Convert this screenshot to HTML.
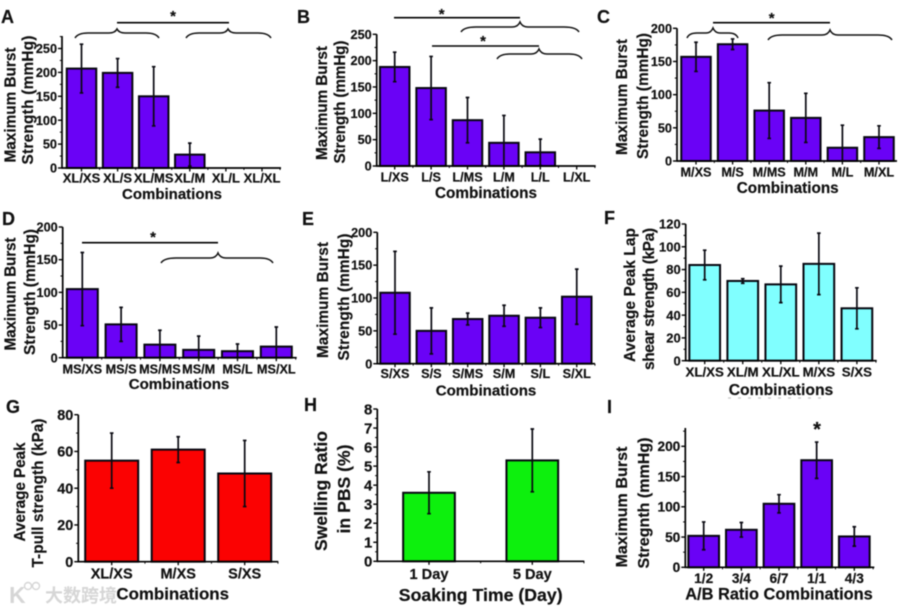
<!DOCTYPE html>
<html lang="en">
<head>
<meta charset="utf-8">
<title>Burst strength bar chart panels</title>
<style>
html,body{margin:0;padding:0;background:#fff;width:903px;height:608px;overflow:hidden}
svg{display:block;filter:blur(0.4px)}
text{font-family:"Liberation Sans","Noto Sans CJK SC",sans-serif;font-weight:bold;fill:#111;stroke:#111;stroke-width:0.2px}
.t{text-anchor:middle}
.p{font-size:18px}
.b{fill:none;stroke:#111;stroke-width:1.5}
.l{stroke:#000;stroke-width:1.6}
.wm{fill:#d6d6d6;stroke:none;font-weight:bold}
</style>
</head>
<body>
<svg id="figure" width="903" height="608" viewBox="0 0 903 608" xmlns="http://www.w3.org/2000/svg">
  <g>
    <text class="wm" x="9" y="603" font-size="23">K</text>
    <circle cx="28" cy="586" r="3.5" fill="none" stroke="#d6d6d6" stroke-width="1.4"/>
    <circle cx="36" cy="586" r="3.5" fill="none" stroke="#d6d6d6" stroke-width="1.4"/>
    <text class="wm" x="45" y="602" font-size="18">大数跨境</text>
  </g>
  <line x1="728" y1="398" x2="828" y2="398" stroke="#c8c8c8" stroke-width="1.2" stroke-dasharray="3 7"/>

  <g id="panel-a">
    <text class="p" x="1" y="23">A</text>
    <text class="t" transform="translate(15.5 105) rotate(-90)" font-size="15.3" textLength="115">Maximum Burst</text>
    <text class="t" transform="translate(33 100) rotate(-90)" font-size="15.3" textLength="129">Strength (mmHg)</text>
    <text class="t" x="172" y="199" font-size="15">Combinations</text>
    <path class="b" d="M75 38 Q78 33 88 33 H109 Q115 33 117 29 Q119 33 125 33 H146 Q156 33 159 38"/>
    <path class="b" d="M186 38 Q189 33 199 33 H220 Q226 33 228 29 Q230 33 236 33 H258 Q268 33 271 38"/>
    <line class="l" x1="117" y1="22.7" x2="229" y2="22.7"/>
    <text class="t" x="173" y="21" font-size="15">*</text>
  </g>

  <g id="panel-b">
    <text class="p" x="297" y="23">B</text>
    <text class="t" transform="translate(327 103) rotate(-90)" font-size="15.3" textLength="114">Maximum Burst</text>
    <text class="t" transform="translate(345 102) rotate(-90)" font-size="15.3" textLength="123">Strength (mmHg)</text>
    <text class="t" x="486" y="198" font-size="15.3">Combinations</text>
    <path class="b" d="M461 32 Q464 27 476 27 H512 Q518 27 520 22 Q522 27 528 27 H564 Q576 27 579 32"/>
    <path class="b" d="M497 59 Q500 54 510 54 H531 Q537 54 539 49 Q541 54 547 54 H569 Q579 54 582 59"/>
    <line class="l" x1="394" y1="17.7" x2="520" y2="17.7"/>
    <line class="l" x1="432" y1="46" x2="539" y2="46"/>
    <text class="t" x="441.7" y="19" font-size="15">*</text>
    <text class="t" x="483" y="46" font-size="15">*</text>
  </g>

  <g id="panel-c">
    <text class="p" x="597" y="23">C</text>
    <text class="t" transform="translate(627 97) rotate(-90)" font-size="15.3" textLength="116">Maximum Burst</text>
    <text class="t" transform="translate(648 96) rotate(-90)" font-size="15.3" textLength="126">Strength (mmHg)</text>
    <text class="t" x="787.7" y="193" font-size="15.3">Combinations</text>
    <path class="b" d="M687 38 Q689 33 697 33 H706 Q711 33 713 28 Q715 33 720 33 H729 Q736 33 738 38"/>
    <path class="b" d="M768 40 Q771 35 782 35 H822 Q828 35 830 30 Q832 35 838 35 H878 Q889 35 892 40"/>
    <line class="l" x1="713" y1="22.7" x2="830" y2="22.7"/>
    <text class="t" x="771.7" y="23" font-size="15">*</text>
  </g>

  <g id="panel-d">
    <text class="p" x="2" y="225">D</text>
    <text class="t" transform="translate(15.5 294) rotate(-90)" font-size="15.3" textLength="113">Maximum Burst</text>
    <text class="t" transform="translate(35 292) rotate(-90)" font-size="15.3" textLength="126">Strength (mmHg)</text>
    <text class="t" x="179" y="389" font-size="15.1">Combinations</text>
    <path class="b" d="M161 263 Q164 258 176 258 H210 Q216 258 218 253 Q220 258 226 258 H260 Q270 258 273 263"/>
    <line class="l" x1="82" y1="242.7" x2="218" y2="242.7"/>
    <text class="t" x="153" y="242" font-size="15">*</text>
  </g>

  <g id="panel-e">
    <text class="p" x="302" y="225">E</text>
    <text class="t" transform="translate(328 300) rotate(-90)" font-size="15.3" textLength="116">Maximum Burst</text>
    <text class="t" transform="translate(349 297) rotate(-90)" font-size="15.3" textLength="127">Strength (mmHg)</text>
    <text class="t" x="486" y="395.7" font-size="15.1">Combinations</text>
  </g>

  <g id="panel-f">
    <text class="p" x="604" y="224">F</text>
    <text class="t" transform="translate(635 295) rotate(-90)" font-size="15.5" textLength="134">Average Peak Lap</text>
    <text class="t" transform="translate(654 299) rotate(-90)" font-size="15.5" textLength="142">shear strength (kPa)</text>
    <text class="t" x="781" y="395" font-size="15.7">Combinations</text>
  </g>

  <g id="panel-g">
    <text class="p" x="6" y="413">G</text>
    <text class="t" transform="translate(25 492) rotate(-90)" font-size="15.3" textLength="99">Average Peak</text>
    <text class="t" transform="translate(43 493) rotate(-90)" font-size="15.3" textLength="149">T-pull strength (kPa)</text>
    <text class="t" x="172.7" y="599.7" font-size="16.9">Combinations</text>
  </g>

  <g id="panel-h">
    <text class="p" x="304" y="411">H</text>
    <text class="t" transform="translate(327 491) rotate(-90)" font-size="17.5" textLength="120">Swelling Ratio</text>
    <text class="t" transform="translate(350 489) rotate(-90)" font-size="17.5" textLength="89">in PBS (%)</text>
    <text class="t" x="480.7" y="601" font-size="17.7">Soaking Time (Day)</text>
  </g>

  <g id="panel-i">
    <text class="p" x="607" y="413">I</text>
    <text class="t" transform="translate(627 507) rotate(-90)" font-size="16" textLength="121">Maximum Burst</text>
    <text class="t" transform="translate(649 503) rotate(-90)" font-size="16" textLength="131">Stregnth (mmHg)</text>
    <text class="t" x="779" y="599.7" font-size="16.4">A/B Ratio Combinations</text>
    <text class="t" x="817" y="436" font-size="20">*</text>
  </g>
</svg>

<script>
// ---- chart data ----
const aCategories = ['XL/XS', 'XL/S', 'XL/MS', 'XL/M', 'XL/L', 'XL/XL'];
const aValues = [208, 199, 150, 28, 0, 0];
const aErrors = [51, 30, 62, 24, 0, 0];
const aTicks = [0, 50, 100, 150, 200, 250];

const bCategories = ['L/XS', 'L/S', 'L/MS', 'L/M', 'L/L', 'L/XL'];
const bValues = [188, 148, 87, 44, 26, 0];
const bErrors = [28, 60, 43, 52, 25, 0];
const bTicks = [0, 50, 100, 150, 200, 250];

const cCategories = ['M/XS', 'M/S', 'M/MS', 'M/M', 'M/L', 'M/XL'];
const cValues = [157, 176, 76, 65, 20, 36];
const cErrors = [22, 8, 42, 37, 34, 17];
const cTicks = [0, 50, 100, 150, 200];

const dCategories = ['MS/XS', 'MS/S', 'MS/MS', 'MS/M', 'MS/L', 'MS/XL'];
const dValues = [105, 51, 20, 12, 10, 17];
const dErrors = [56, 26, 22, 21, 11, 30];
const dTicks = [0, 50, 100, 150, 200];

const eCategories = ['S/XS', 'S/S', 'S/MS', 'S/M', 'S/L', 'S/XL'];
const eValues = [108, 50, 68, 73, 70, 102];
const eErrors = [63, 35, 9, 16, 15, 42];
const eTicks = [0, 50, 100, 150, 200];

const fCategories = ['XL/XS', 'XL/M', 'XL/XL', 'M/XS', 'S/XS'];
const fValues = [84, 70, 67, 85, 46];
const fErrors = [13, 2, 16, 27, 18];
const fTicks = [0, 20, 40, 60, 80, 100, 120];

const gCategories = ['XL/XS', 'M/XS', 'S/XS'];
const gValues = [55, 61, 48];
const gErrors = [15, 7, 18];
const gTicks = [0, 20, 40, 60, 80];

const hCategories = ['1 Day', '5 Day'];
const hValues = [3.6, 5.3];
const hErrors = [1.1, 1.65];
const hTicks = [0, 1, 2, 3, 4, 5, 6, 7, 8];

const iCategories = ['1/2', '3/4', '6/7', '1/1', '4/3'];
const iValues = [52, 62, 105, 177, 51];
const iErrors = [23, 12, 15, 30, 16];
const iTicks = [0, 50, 100, 150, 200];

// ---- panel layout (geometry and styling only) ----
const PURPLE = '#6a02f6';
const panels = [
  {id:'a', cats:aCategories, vals:aValues, errs:aErrors, ticks:aTicks, fill:PURPLE, left:62, right:281, y0:168, yTopTick:48.5, axisTop:36, first:81.5, step:36.1, barW:29.5, tickFont:12.7, catFont:13, catY:182.7},
  {id:'b', cats:bCategories, vals:bValues, errs:bErrors, ticks:bTicks, fill:PURPLE, left:376.7, right:595.7, y0:166, yTopTick:34.3, axisTop:34.3, first:394.7, step:36.4, barW:29.5, tickFont:12.7, catFont:12.7, catY:181.7},
  {id:'c', cats:cCategories, vals:cValues, errs:cErrors, ticks:cTicks, fill:PURPLE, left:677, right:897, y0:161, yTopTick:28.3, axisTop:28.3, first:696, step:36.6, barW:29.5, tickFont:12.7, catFont:12.7, catY:176.7},
  {id:'d', cats:dCategories, vals:dValues, errs:dErrors, ticks:dTicks, fill:PURPLE, left:62.7, right:296.7, y0:357.7, yTopTick:227, axisTop:227, first:82.3, step:38.8, barW:31, tickFont:12.7, catFont:12.7, catY:373.3},
  {id:'e', cats:eCategories, vals:eValues, errs:eErrors, ticks:eTicks, fill:PURPLE, left:377.3, right:595, y0:363.7, yTopTick:232.3, axisTop:232.3, first:395, step:36.35, barW:29.5, tickFont:12.7, catFont:12.7, catY:378},
  {id:'f', cats:fCategories, vals:fValues, errs:fErrors, ticks:fTicks, fill:'#80ffff', left:685.7, right:876.7, y0:360.7, yTopTick:224, axisTop:224, first:704.7, step:38.05, barW:30.7, tickFont:13, catFont:13.3, catY:376.7},
  {id:'g', cats:gCategories, vals:gValues, errs:gErrors, ticks:gTicks, fill:'#fb0202', left:78.3, right:278.3, y0:561.7, yTopTick:414.7, axisTop:414.7, first:111.7, step:66.5, barW:53, tickFont:14.4, catFont:14.5, catY:578.7},
  {id:'h', cats:hCategories, vals:hValues, errs:hErrors, ticks:hTicks, fill:'#0df00d', left:377.3, right:584.3, y0:561.3, yTopTick:409, axisTop:409, first:429, step:103.3, barW:51.7, tickFont:15, catFont:14.6, catY:579},
  {id:'i', cats:iCategories, vals:iValues, errs:iErrors, ticks:iTicks, fill:PURPLE, left:685.3, right:874.3, y0:567.3, yTopTick:446.3, axisTop:428, first:703.7, step:37.65, barW:30.7, tickFont:13.7, catFont:13.7, catY:583}
];

const SVG_NS = 'http://www.w3.org/2000/svg';
function make(tag, parent, props) {
  const el = document.createElementNS(SVG_NS, tag);
  for (const key in props) { el.setAttribute(key, props[key]); }
  parent.appendChild(el);
  return el;
}

function drawPanel(p) {
  const group = document.getElementById('panel-' + p.id);
  const maxTick = p.ticks[p.ticks.length - 1];
  const yScale = v => p.y0 - v * (p.y0 - p.yTopTick) / maxTick;
  const xScale = i => p.first + i * p.step;

  // bars and error bars
  p.vals.forEach((v, i) => {
    const cx = xScale(i);
    const bar = make('rect', group, {
      x: cx - p.barW / 2, y: yScale(v), width: p.barW, height: p.y0 - yScale(v),
      fill: p.fill, stroke: '#06060f', 'stroke-width': 2
    });
    
    
    if (p.errs[i] > 0) {
      const hi = yScale(v + p.errs[i]);
      const lo = yScale(Math.max(0, v - p.errs[i]));
      const err = make('path', group, {
        d: 'M' + cx + ' ' + hi + 'V' + lo + 'M' + (cx - 1.8) + ' ' + hi + 'H' + (cx + 1.8) + 'M' + (cx - 1.8) + ' ' + lo + 'H' + (cx + 1.8),
        fill: 'none', stroke: '#0a0a12', 'stroke-width': 1.7
      });
      
      
    }
  });

  // axes
  const yAxis = make('line', group, {x1: p.left, x2: p.left, y1: p.axisTop, y2: p.y0 + 0.8, stroke: '#000', 'stroke-width': 1.7});
  
  
  const xAxis = make('line', group, {x1: p.left, x2: p.right, y1: p.y0, y2: p.y0, stroke: '#000', 'stroke-width': 1.7});
  
  

  // y ticks, labels and minor ticks
  p.ticks.forEach(t => {
    const y = yScale(t);
    const tick = make('line', group, {x1: p.left - 4, x2: p.left, y1: y, y2: y, stroke: '#000', 'stroke-width': 1.4});
    
    
    const label = make('text', group, {x: p.left - 5, y: y + p.tickFont * 0.36, 'text-anchor': 'end', 'font-size': p.tickFont});
    
    
    label.textContent = t;
  });
  const tickStep = p.ticks[1] - p.ticks[0];
  for (let m = tickStep / 2; yScale(m) >= p.axisTop - 0.5; m += tickStep) {
    const minor = make('line', group, {x1: p.left - 2.2, x2: p.left, y1: yScale(m), y2: yScale(m), stroke: '#000', 'stroke-width': 1});
    
    
  }

  // x ticks and category labels
  p.cats.forEach((c, i) => {
    const cx = xScale(i);
    const tick = make('line', group, {x1: cx, x2: cx, y1: p.y0, y2: p.y0 + 3.5, stroke: '#000', 'stroke-width': 1.3});
    
    
    const minorX = cx + p.step / 2;
    if (minorX < p.right) {
      const minor = make('line', group, {x1: minorX, x2: minorX, y1: p.y0, y2: p.y0 + 2, stroke: '#000', 'stroke-width': 1});
      
      
    }
    const label = make('text', group, {x: cx, y: p.catY, 'text-anchor': 'middle', 'font-size': p.catFont});
    
    
    label.textContent = c;
  });
}

panels.forEach(drawPanel);
</script>
</body>
</html>
